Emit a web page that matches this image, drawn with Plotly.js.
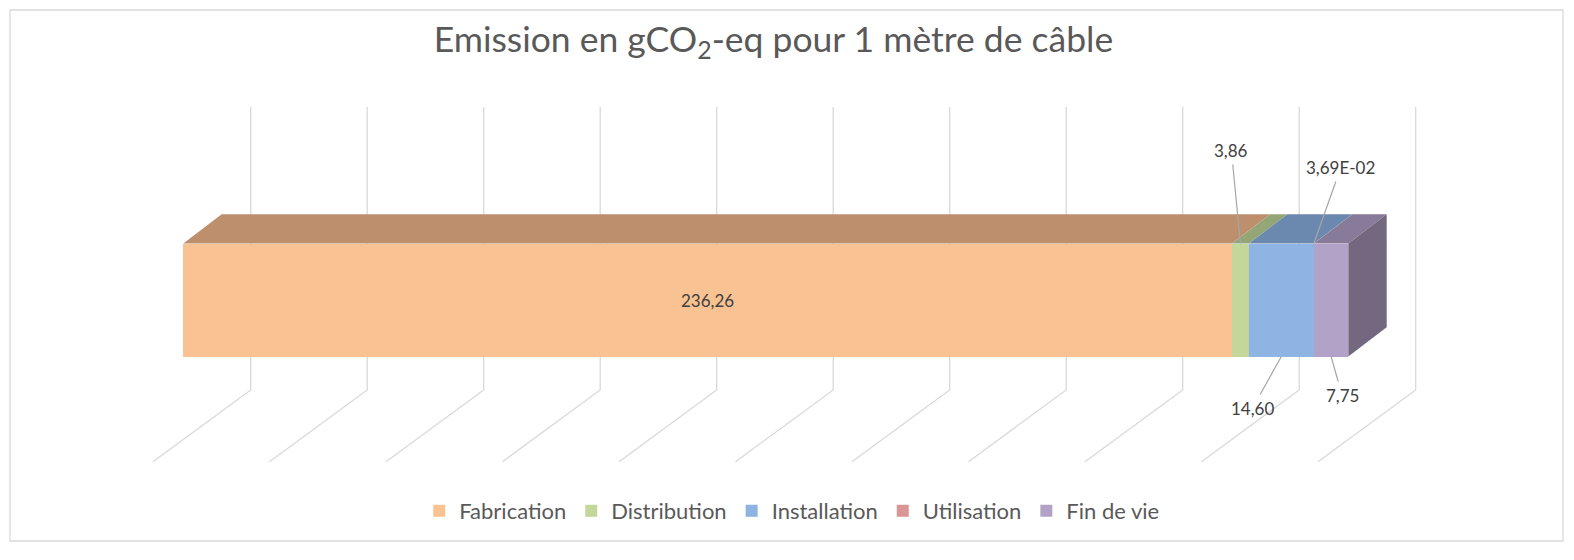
<!DOCTYPE html>
<html>
<head>
<meta charset="utf-8">
<script src="https://cdn.plot.ly/plotly-3.0.1.min.js"></script>
<style>
  html, body { margin: 0; padding: 0; background: #fff; }
  #chart { width: 1574px; height: 560px; }
</style>
</head>
<body>
<div id="chart"></div>
<script>
// data
var categories = ["Fabrication", "Distribution", "Installation", "Utilisation", "Fin de vie"];
var values = [236.26, 3.86, 14.60, 0.0369, 7.75];
var gridValues = [0, 26.25, 52.5, 78.75, 105, 131.25, 157.5, 183.75, 210, 236.25, 262.5];

// styles
var frontColors = ["#F9C292", "#C4D79B", "#8DB4E2", "#DA9694", "#B3A2C7"];
var topColors = ["#BD8F6C", "#94A576", "#6B89AE", "#A67170", "#887B99"];
var sideColor = "#736880";
var gridColor = "#D9D9D9";
var FONT = "Lato, 'Open Sans', sans-serif";

// fake 3d: depth of the bar, in axis units
var depthX = 8.65, depthY = 0.259;
// back wall / floor of the grid, in axis units
var wallDx = 15.19, wallTop = 1.708, floorBack = -0.796;
var floorDx = -6.83, floorFront = -1.431;

// label placement (which edge, pixel offset of text)
var labelEdge = [0, 0.5, -0.5, 0.5, -0.5];
var labelAx = [0, -9, -29, 27, 11];
var labelAy = [0, -93, 52, -76, 39];

function fmt(v) {
  if (v < 0.1) {
    var e = v.toExponential(2).split("e");
    var p = parseInt(e[1], 10);
    var ps = (p < 0 ? "-" : "+") + (Math.abs(p) < 10 ? "0" : "") + Math.abs(p);
    return e[0].replace(".", ",") + "E" + ps;
  }
  return v.toFixed(2).replace(".", ",");
}

var data = [];
var annotations = [];
var starts = [];
var acc = 0;
for (let i = 0; i < values.length; i++) {
  starts.push(acc);
  acc += values[i];
}
var total = acc;

// front faces (real stacked bars)
for (let i = 0; i < values.length; i++) {
  data.push({
    type: "bar",
    orientation: "h",
    name: categories[i],
    x: [values[i]],
    y: [0],
    width: 1,
    marker: {color: frontColors[i], line: {width: 0}},
    hoverinfo: "name+x"
  });
}

// top faces
for (let i = 0; i < values.length; i++) {
  var x0 = starts[i], x1 = starts[i] + values[i];
  data.push({
    type: "scatter",
    mode: "lines",
    x: [x0, x1, x1 + depthX, x0 + depthX, x0],
    y: [0.5, 0.5, 0.5 + depthY, 0.5 + depthY, 0.5],
    fill: "toself",
    fillcolor: topColors[i],
    line: {width: 0, color: topColors[i]},
    showlegend: false,
    hoverinfo: "skip"
  });
}

// right side face
data.push({
  type: "scatter",
  mode: "lines",
  x: [total, total + depthX, total + depthX, total, total],
  y: [-0.5, -0.5 + depthY, 0.5 + depthY, 0.5, -0.5],
  fill: "toself",
  fillcolor: sideColor,
  line: {width: 0, color: sideColor},
  showlegend: false,
  hoverinfo: "skip"
});

// value labels
for (let i = 0; i < values.length; i++) {
  var mid = starts[i] + values[i] / 2;
  if (i == 0) {
    annotations.push({
      x: mid, y: 0, xref: "x", yref: "y",
      text: fmt(values[i]), showarrow: false,
      font: {family: FONT, size: 17, color: "#404040"}
    });
  } else {
    annotations.push({
      x: mid, y: labelEdge[i], xref: "x", yref: "y",
      text: fmt(values[i]),
      showarrow: true, arrowhead: 0, arrowwidth: 1.2, arrowcolor: "#A6A6A6",
      ax: labelAx[i], ay: labelAy[i], standoff: 0, borderpad: 3,
      font: {family: FONT, size: 17, color: "#404040"}
    });
  }
}

// grid: back wall verticals + floor diagonals
var shapes = [];
for (let i = 0; i < gridValues.length; i++) {
  var v = gridValues[i];
  shapes.push({
    type: "path", xref: "x", yref: "y", layer: "below",
    path: "M" + (v + wallDx) + "," + wallTop +
          " L" + (v + wallDx) + "," + floorBack +
          " L" + (v + floorDx) + "," + floorFront,
    line: {color: gridColor, width: 1.3}
  });
}

// outer frame
shapes.push({
  type: "rect", xref: "paper", yref: "paper",
  x0: 10 / 1574, x1: 1563 / 1574, y0: 1 - 541 / 560, y1: 1 - 10 / 560,
  line: {color: gridColor, width: 1.3}
});

var layout = {
  width: 1574,
  height: 560,
  margin: {l: 0, r: 0, t: 0, b: 0},
  paper_bgcolor: "#fff",
  plot_bgcolor: "#fff",
  barmode: "stack",
  title: {
    text: "Emission en gCO<sub>2</sub>-eq pour 1 mètre de câble",
    x: 0.4914, xanchor: "center",
    y: 0.93, yanchor: "middle", yref: "container",
    font: {family: FONT, size: 35.5, color: "#595959"}
  },
  xaxis: {
    range: [-41.30, 313.36],
    showgrid: false, zeroline: false, showticklabels: false, showline: false,
    fixedrange: true
  },
  yaxis: {
    range: [-2.301, 2.655],
    showgrid: false, zeroline: false, showticklabels: false, showline: false,
    fixedrange: true
  },
  showlegend: true,
  legend: {
    orientation: "h",
    x: 0.503, xanchor: "center",
    y: 1 - 511 / 560, yanchor: "middle",
    font: {family: FONT, size: 22, color: "#595959"},
    traceorder: "normal",
    bgcolor: "rgba(0,0,0,0)"
  },
  annotations: annotations,
  shapes: shapes
};

Plotly.newPlot("chart", data, layout, {displayModeBar: false, staticPlot: true});
</script>
</body>
</html>
